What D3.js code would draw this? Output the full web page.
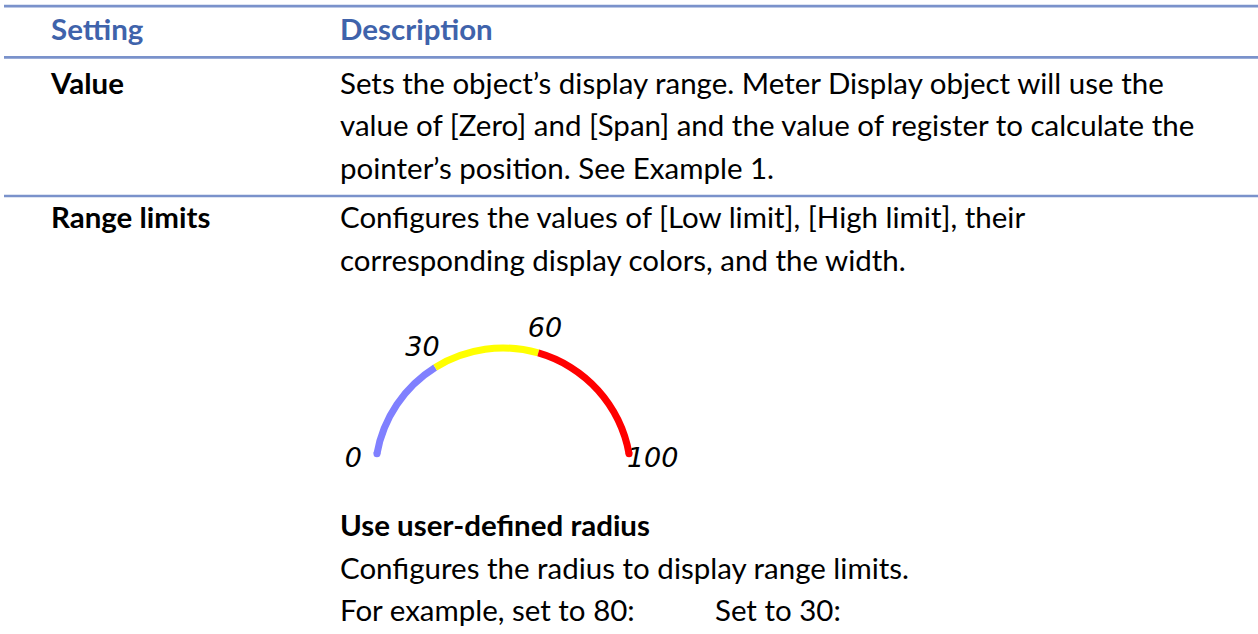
<!DOCTYPE html>
<html>
<head>
<meta charset="utf-8">
<script src="https://cdn.jsdelivr.net/npm/d3@7/dist/d3.min.js"></script>
<style>
  html, body { margin: 0; padding: 0; background: #ffffff; }
  svg { display: block; }
</style>
</head>
<body>
<div id="chart"></div>
<script>
// ---- data ----
const headers = ["Setting", "Description"];
const settingNames = ["Value", "Range limits"];
const valueLines = [
  "Sets the object\u2019s display range. Meter Display object will use the",
  "value of [Zero] and [Span] and the value of register to calculate the",
  "pointer\u2019s position. See Example 1."
];
const rangeLines = [
  "Configures the values of [Low limit], [High limit], their",
  "corresponding display colors, and the width."
];
const subHeading = "Use user-defined radius";
const subLines = [
  "Configures the radius to display range limits.",
  "For example, set to 80:"
];
const subLineExtra = "Set to 30:";
const limitTicks = [0, 30, 60, 100];
const limitSegments = [
  { from: 0, to: 30, color: "#8080ff" },
  { from: 30, to: 60, color: "#ffff00" },
  { from: 60, to: 100, color: "#ff0000" }
];

// ---- layout ----
const W = 1258, H = 634;
const colX = [51, 340];
const lineGap = 42.5;
const ruleColor = "#7a92cb";
const headColor = "#3f63ab";
const fontFam = "Lato, 'Open Sans', sans-serif";
const fontSize = 28;

const svg = d3.select("#chart").append("svg")
  .attr("width", W).attr("height", H);

// horizontal rules
const ruleY = [6.2, 57.3, 196];
svg.selectAll("line.rule").data(ruleY).enter().append("line")
  .attr("class", "rule")
  .attr("x1", 4).attr("x2", W)
  .attr("y1", d => d).attr("y2", d => d)
  .attr("stroke", ruleColor).attr("stroke-width", 2.7);

// text helper
const texts = [];
function addText(str, x, y, opts) {
  opts = opts || {};
  const t = svg.append("text")
    .attr("x", x).attr("y", y)
    .attr("font-family", fontFam)
    .attr("font-size", fontSize)
    .attr("font-weight", opts.bold ? 700 : 400)
    .attr("fill", opts.color || "#000")
    .text(str);
  texts.push(t);
  return t;
}

// header
headers.forEach((h, i) => addText(h, colX[i], 40, { bold: true, color: headColor }));

// row 1
const row1Y = 93.5;
addText(settingNames[0], colX[0], row1Y, { bold: true });
valueLines.forEach((l, i) => addText(l, colX[1], row1Y + i * lineGap));

// row 2
const row2Y = 228;
addText(settingNames[1], colX[0], row2Y, { bold: true });
rangeLines.forEach((l, i) => addText(l, colX[1], row2Y + i * lineGap));

// sub section
const subY = 536;
addText(subHeading, colX[1], subY, { bold: true });
subLines.forEach((l, i) => addText(l, colX[1], subY + (i + 1) * lineGap));
addText(subLineExtra, 715, subY + 2 * lineGap);

// compress glyph widths to match the narrower original face
const n1 = texts.find(t => t.text() === valueLines[0]).node().getComputedTextLength();
const n2 = texts.find(t => t.text() === valueLines[1]).node().getComputedTextLength();
const k = ((1161 - 340) + (1197 - 340)) / (n1 + n2);
texts.forEach(t => {
  const len = t.node().getComputedTextLength();
  t.attr("textLength", len * k).attr("lengthAdjust", "spacingAndGlyphs");
});

// ---- gauge ----
const cx = 503, cy = 476, r = 128, bw = 7;
const ang = d3.scaleLinear().domain([0, 100]).range([-80 * Math.PI / 180, 80 * Math.PI / 180]);
const arc = d3.arc().innerRadius(r - bw / 2).outerRadius(r + bw / 2);
const g = svg.append("g").attr("transform", `translate(${cx},${cy})`);
g.selectAll("path.seg").data(limitSegments).enter().append("path")
  .attr("class", "seg")
  .attr("d", d => arc({ startAngle: ang(d.from), endAngle: ang(d.to) }))
  .attr("fill", d => d.color);
// rounded ends
const first = limitSegments[0], last = limitSegments[limitSegments.length - 1];
g.selectAll("circle.cap").data([{ v: first.from, c: first.color }, { v: last.to, c: last.color }])
  .enter().append("circle")
  .attr("cx", d => r * Math.sin(ang(d.v)))
  .attr("cy", d => -r * Math.cos(ang(d.v)))
  .attr("r", bw / 2)
  .attr("fill", d => d.c);

const labelRx = 152, labelRy = 165;
g.selectAll("text.tick").data(limitTicks).enter().append("text")
  .attr("class", "tick")
  .attr("x", d => labelRx * Math.sin(ang(d)))
  .attr("y", d => -labelRy * Math.cos(ang(d)) + 20)
  .attr("text-anchor", "middle")
  .attr("font-family", "'DejaVu Sans', sans-serif")
  .attr("font-style", "italic")
  .attr("font-size", 27)
  .attr("fill", "#000")
  .text(d => d);
</script>
</body>
</html>
